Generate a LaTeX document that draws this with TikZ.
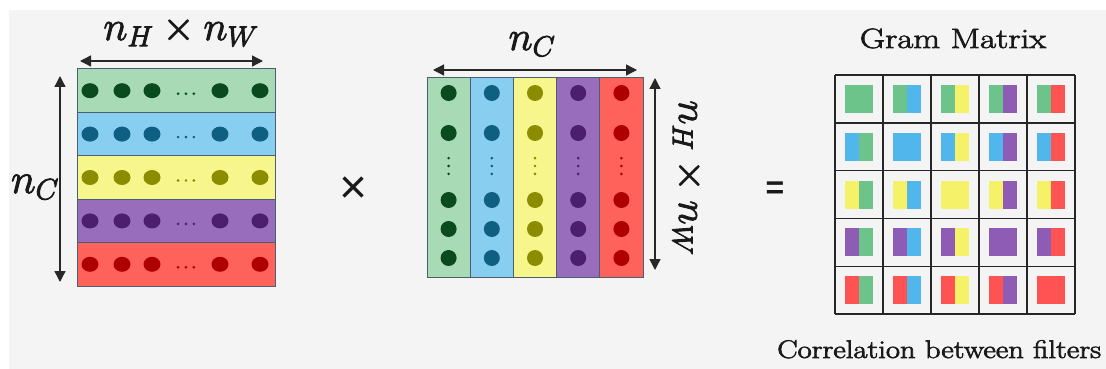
\RequirePackage{fix-cm}
\documentclass[tikz,border=0pt]{standalone}
\usepackage{graphicx}
\usepackage{fontspec}
\newfontfamily\sansf{Liberation Sans}
\usetikzlibrary{arrows.meta}
\newcommand\fbold[2][0.9]{\special{pdf:literal 2 Tr #1 w}#2\special{pdf:literal 0 Tr}}
\definecolor{bg}{RGB}{244,244,244}
\definecolor{lgreen}{RGB}{168,218,181}
\definecolor{lblue}{RGB}{135,206,240}
\definecolor{lyellow}{RGB}{246,246,140}
\definecolor{lpurple}{RGB}{152,110,188}
\definecolor{lred}{RGB}{255,98,90}
\definecolor{dgreen}{RGB}{10,75,30}
\definecolor{dblue}{RGB}{15,95,130}
\definecolor{dyellow}{RGB}{140,140,0}
\definecolor{dpurple}{RGB}{75,30,110}
\definecolor{dred}{RGB}{175,0,0}
\definecolor{ggreen}{RGB}{108,196,138}
\definecolor{gblue}{RGB}{80,182,236}
\definecolor{gyellow}{RGB}{245,242,105}
\definecolor{gpurple}{RGB}{142,92,180}
\definecolor{gred}{RGB}{255,82,82}
\definecolor{cellline}{RGB}{75,95,115}
\definecolor{arrowc}{RGB}{40,40,40}
\definecolor{txt}{RGB}{25,25,25}
\tikzset{
  cellbox/.style={draw=cellline, line width=1pt, inner sep=0pt},
  dimarrow/.style={draw=arrowc, line width=1.3pt, {Triangle[length=11pt,width=11pt]}-{Triangle[length=11pt,width=11pt]}},
  biglab/.style={text=txt, inner sep=0pt, font=\fontsize{41}{44}\selectfont},
  gridl/.style={draw=black!85, line width=1.4pt},
}
\begin{document}
\begin{tikzpicture}[x=1pt,y=-1pt]
\fill[white] (0,0) rectangle (1106,369);
\useasboundingbox (0,0) rectangle (1106,369);
\fill[bg] (9,10) rectangle (1106,369);

% ---------- left matrix (rows) ----------
\foreach \c/\d [count=\i] in {lgreen/dgreen,lblue/dblue,lyellow/dyellow,lpurple/dpurple,lred/dred}{
  \pgfmathsetmacro\yc{69+(\i-1)*43.4+21.7}
  \node[cellbox, fill=\c, minimum width=198pt, minimum height=43.4pt] (row\i) at (176,\yc) {};
  \foreach \x in {90,122,152,220,260}
    \fill[\d] (\x,\yc) ellipse [x radius=8.5pt, y radius=7.5pt];
  \node[text=\d, inner sep=0pt, font=\fontsize{18}{18}\selectfont] (rdots\i) at (186,\yc+3) {\fbold[0.8]{$\ldots$}};
}
\coordinate (hwL) at (80,61);
\coordinate (hwR) at (263,61);
\draw[dimarrow] (hwL) -- (hwR);
\coordinate (ncT) at (60,76);
\coordinate (ncB) at (60,282);
\draw[dimarrow] (ncT) -- (ncB);
\node[biglab, anchor=base] (lblHW) at (181,40) {\fbold{$n_H\times n_W$}};
\node[biglab, anchor=base, font=\fontsize{42}{46}\selectfont] (lblC1) at (35,193) {\fbold{$n_C$}};

% ---------- times ----------
\node[text=txt, inner sep=0pt, font=\sansf\fontsize{48}{48}\selectfont] (times) at (354,190) {×};

% ---------- middle matrix (columns) ----------
\foreach \c/\d [count=\i] in {lgreen/dgreen,lblue/dblue,lyellow/dyellow,lpurple/dpurple,lred/dred}{
  \pgfmathsetmacro\xc{427+(\i-1)*43.2+21.6}
  \node[cellbox, fill=\c, minimum width=43.2pt, minimum height=199pt] (col\i) at (\xc,177.5) {};
  \foreach \y in {93,133,200,229,258}
    \fill[\d] (\xc,\y) circle [radius=8pt];
  \node[text=\d, inner sep=0pt, rotate=90, font=\fontsize{18}{18}\selectfont] (cdots\i) at (\xc,166) {\fbold[0.8]{$\ldots$}};
}
\coordinate (ncL) at (433,70);
\coordinate (ncR) at (637,70);
\draw[dimarrow] (ncL) -- (ncR);
\coordinate (hwT) at (655,78);
\coordinate (hwB) at (655,270);
\draw[dimarrow] (hwT) -- (hwB);
\node[biglab, anchor=base] (lblC2) at (532,50) {\fbold{$n_C$}};
\node[biglab, anchor=base, rotate=-90] (lblHW2) at (679,178) {\fbold{$n_H\times n_W$}};

% ---------- equals ----------
\node[text=txt, inner sep=0pt, font=\sansf\bfseries\fontsize{32}{32}\selectfont] (eq) at (775,190) {=};

% ---------- Gram matrix ----------
\node[text=txt, anchor=base, inner sep=0pt, font=\fontsize{28}{30}\selectfont] (gram) at (953,48) {\scalebox{1.24}[1]{\fbold[0.6]{Gram Matrix}}};
\foreach \R [count=\r] in {ggreen,gblue,gyellow,gpurple,gred}{
  \foreach \C [count=\c] in {ggreen,gblue,gyellow,gpurple,gred}{
    \pgfmathsetmacro\cx{859+(\c-1)*48}
    \pgfmathsetmacro\cy{99+(\r-1)*47.8}
    \fill[\R] (\cx-14,\cy-14) rectangle (\cx,\cy+14);
    \fill[\C] (\cx,\cy-14) rectangle (\cx+14,\cy+14);
  }
}
\foreach \i in {0,...,5}{
  \draw[gridl] (835+\i*48,75) -- (835+\i*48,314);
  \draw[gridl] (835,75+\i*47.8) -- (1075,75+\i*47.8);
}
\node[text=txt, anchor=base west, inner sep=0pt, font=\fontsize{25.5}{28}\selectfont] (corr) at (777,358) {\scalebox{1.2}[1]{\fbold[0.6]{Correlation between filters}}};
\end{tikzpicture}
\end{document}
